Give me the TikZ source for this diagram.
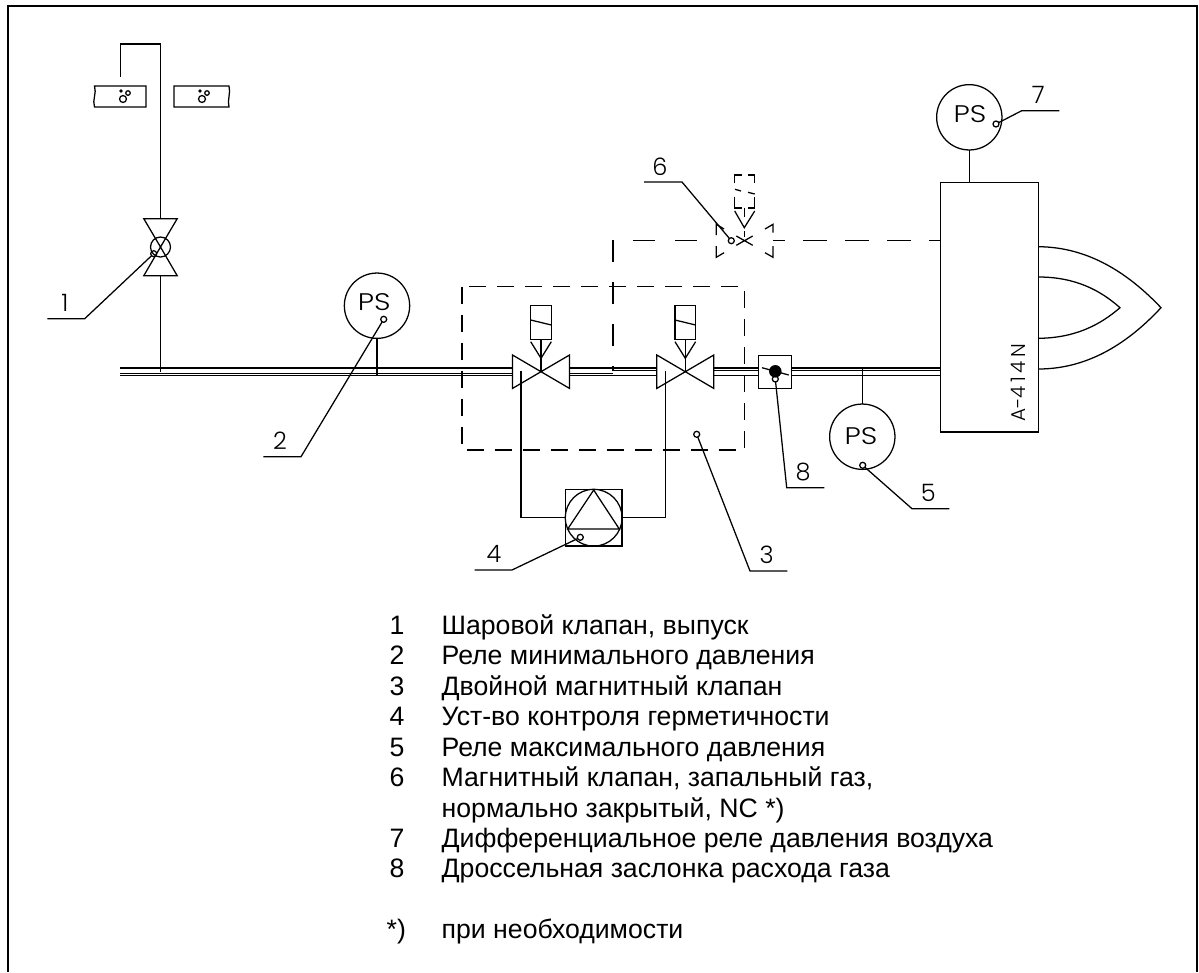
\documentclass[tikz,border=0pt]{standalone}
\usepackage{fontspec}
\setmainfont{Liberation Sans}
\newfontfamily\cadfont{Poppins Light}
\begin{document}
\begin{tikzpicture}[x=0.75pt,y=-0.75pt,line width=0.95pt,
      frame/.style={line width=1.9pt},
      dashbox/.style={dash pattern=on 13pt off 8pt},
      dashpilot/.style={dash pattern=on 16.5pt off 15pt},
      dashair/.style={dash pattern=on 18pt off 13.5pt},
      gauge/.style={circle,draw,minimum size=49pt,inner sep=0pt,outer sep=0pt},
      mark dot/.style={circle,draw,minimum size=4.5pt,inner sep=0pt,outer sep=0pt},
      cad/.style={font=\cadfont\fontsize{18}{18}\selectfont,inner sep=0pt},
      gauge text/.style={cad,xscale=1.2},
      legend/.style={font=\fontsize{20}{20}\selectfont,anchor=base west,inner sep=0pt}]
      \useasboundingbox (0,0) rectangle (1199,972);
      \draw[frame] (8,972) -- (8,6) -- (1197,6) -- (1197,972);
      % main pipe
      \foreach \a/\b/\y in {120/513/368,120/513/373.5,120/513/375.7,
        569/613/368,569/613/373.5,569/613/375.7,
        613/657/368,613/657/370.5,613/657/375.7,
        714/759/368,714/759/370.5,714/759/375.7,
        792/941/368,792/941/370.5,792/941/375.7}
        \draw (\a,\y) -- (\b,\y);
      % outlet line and wall
      \coordinate (VentEnd) at (120.5,77);
      \coordinate (VentTop) at (160.5,44);
      \coordinate (BallValve) at (160.5,247);
      \coordinate (PipeTee) at (160.5,372);
      \draw (VentEnd) -- (VentEnd |- VentTop) -- (VentTop) -- (BallValve |- 0,218.7);
      \draw (BallValve |- 0,275.7) -- (PipeTee);
      \draw (146,86) -- (94.5,86) .. controls (97,93) and (92,100) .. (94.5,107) -- (146,107) -- cycle;
      \draw (174,86) -- (229,86) .. controls (231,93) and (227,100) .. (229,107) -- (174,107) -- cycle;
      \foreach \x in {121,200} {
        \fill (\x,91) circle (1.4pt);
        \draw (\x+7,93) circle (1.7pt);
        \draw (\x+2,99) circle (2.6pt);
      }
      % ball valve
      \draw (BallValve) -- ++(-16.7,-28.3) -- ++(33.4,0) -- cycle;
      \draw (BallValve) -- ++(-16.7,28.7) -- ++(33.4,0) -- cycle;
      \draw (BallValve) circle (7.5pt);
      % double magnetic valve
      \foreach \n/\x in {A/541,B/685.3} {
        \coordinate (Valve\n) at (\x,371.7);
        \draw (Valve\n) -- ++(-28.5,-16.7) -- ++(0,33.4) -- cycle;
        \draw (Valve\n) -- ++(28.5,-16.7) -- ++(0,33.4) -- cycle;
        \draw (\x-10.3,305.7) rectangle (\x+10.3,339.3);
        \draw (\x-10.3,320) -- (\x+10.3,325);
        \draw (\x-10.3,341.7) -- (\x,358.3) -- (\x+10.3,341.7);
        \draw (\x,339.3) -- (Valve\n);
      }
      % leak test unit
      \node[draw,minimum size=42.6pt,inner sep=0pt,outer sep=0pt] (TestBox) at (593.7,517.7) {};
      \node[circle,draw,minimum size=42.6pt,inner sep=0pt,outer sep=0pt] (TestCircle) at (593.7,517.7) {};
      \draw (593.7,490) -- (567.7,529) -- (619.3,529) -- cycle;
      \coordinate (ValveAFoot) at (521,371);
      \coordinate (ValveBFoot) at (665.7,371);
      \draw (ValveAFoot) -- (ValveAFoot |- TestBox.west) -- (TestBox.west);
      \draw (ValveBFoot) -- (ValveBFoot |- TestBox.east) -- (TestBox.east);
      % dashed lines
      \draw[dashbox] (462,286.7) rectangle (744.7,450);
      \coordinate (PilotFoot) at (613,371);
      \coordinate (PilotCorner) at (613,240.7);
      \coordinate (PilotValve) at (744.3,240.7);
      \draw[dashpilot,dash phase=13pt] (PilotFoot) -- (PilotCorner) -- (717,240.7);
      \draw[dashair,dash phase=9pt] (773,240.7) -- (941,240.7);
      % pilot valve
      \draw (736.3,236) -- (752.7,245.3) (736.3,245.3) -- (752.7,236);
      \draw (724,229) -- (716.3,224.3) -- (716.3,235);
      \draw (724,252.7) -- (716.3,257.3) -- (716.3,246);
      \draw (765,229) -- (773,224.3) -- (773,232.7);
      \draw (765,252.7) -- (773,257.3) -- (773,246);
      \draw (734.7,183) -- (734.7,175) -- (741.5,175) (748,175) -- (754.7,175) -- (754.7,183);
      \draw (735,189.3) -- (741,191) (748,192.3) -- (754.7,194);
      \draw (734.7,196.7) -- (734.7,208) -- (741.5,208) (748,208) -- (754.7,208) -- (754.7,196.7);
      \draw (734.7,211) -- (744.3,227.7) -- (754.7,211);
      \draw (744.3,207.7) -- (744.3,217) (744.3,231) -- (744.3,237);
      % throttle
      \node[draw,minimum size=24.7pt,inner sep=0pt,outer sep=0pt] (ThrottleBox) at (775.2,371.7) {};
      \fill (775.3,371.3) circle (4.7pt);
      \draw (762,367.7) -- (788.7,375);
      % burner
      \node[draw,minimum width=73.5pt,minimum height=186.9pt,inner sep=0pt,outer sep=0pt] (Burner) at (989.7,307.4) {};
      \node[rotate=90,inner sep=0pt,font=\cadfont\fontsize{15}{15}\selectfont] (BurnerType) at (1018.3,383) {A-4\,1\,4\,N};
      \draw (1038.3,246.7) .. controls (1090,247) and (1130,275) .. (1161,307.7)
        .. controls (1130,341) and (1090,369) .. (1038.3,369);
      \draw (1038.3,277) .. controls (1075,277) and (1100,290) .. (1120,307.7)
        .. controls (1100,325) and (1075,338) .. (1038.3,338.3);
      % pressure switches
      \node[gauge] (PSTwo) at (377,305.7) {};
      \node[gauge] (PSFive) at (862.3,436.7) {};
      \node[gauge] (PSSeven) at (969.3,117.3) {};
      \node[gauge text] (PSTwoText) at (374.3,302) {PS};
      \node[gauge text] (PSFiveText) at (861,436) {PS};
      \node[gauge text] (PSSevenText) at (970,114) {PS};
      \coordinate (TeeTwo) at (377,375);
      \coordinate (TeeFive) at (862.3,368);
      \draw (PSTwo) -- (TeeTwo);
      \draw (PSFive) -- (TeeFive);
      \draw (PSSeven) -- (PSSeven |- Burner.north);
      % leaders
      \foreach \n/\dx/\dy/\ex/\ey/\tx/\lx/\ly in {
        1/153.7/253.7/84.7/318.7/47.3/65/303,
        2/383.7/319.3/301/456.7/263.3/280/440.7,
        3/696.7/434.3/750/571/787.3/766.7/555,
        4/580.3/537.3/512/570/474.7/494/553.5,
        5/862.7/465.3/912/508.7/949.3/928.3/492.7,
        6/731.3/240.7/682/182/644/660/166.5,
        7/996/124/1021.7/110.7/1059.3/1038.3/95,
        8/775.3/379/786.7/487.7/824.3/803/472} {
        \node[mark dot] (Dot\n) at (\dx,\dy) {};
        \coordinate (Bend\n) at (\ex,\ey);
        \coordinate (Tail\n) at (\tx,\ey);
        \draw (Dot\n) -- (Bend\n) -- (Tail\n);
        \node[cad] (Label\n) at (\lx,\ly) {\n};
      }
      % legend
      \foreach \n/\y/\t in {1/634/{Шаровой клапан, выпуск},2/664.5/{Реле минимального давления},
        3/695/{Двойной магнитный клапан},4/725.5/{Уст-во контроля герметичности},
        5/756/{Реле максимального давления},6/786.5/{Магнитный клапан, запальный газ,},
        7/847.5/{Дифференциальное реле давления воздуха},8/877/{Дроссельная заслонка расхода газа}} {
        \node[legend] (Num\n) at (389,\y) {\n};
        \node[legend] (Item\n) at (441,\y) {\t};
      }
      \node[legend] (ItemSix) at (441,817) {нормально закрытый, NC *)};
      \node[legend] (NumNote) at (386,938) {*)};
      \node[legend] (ItemNote) at (441,938) {при необходимости};
      \end{tikzpicture}
\end{document}
